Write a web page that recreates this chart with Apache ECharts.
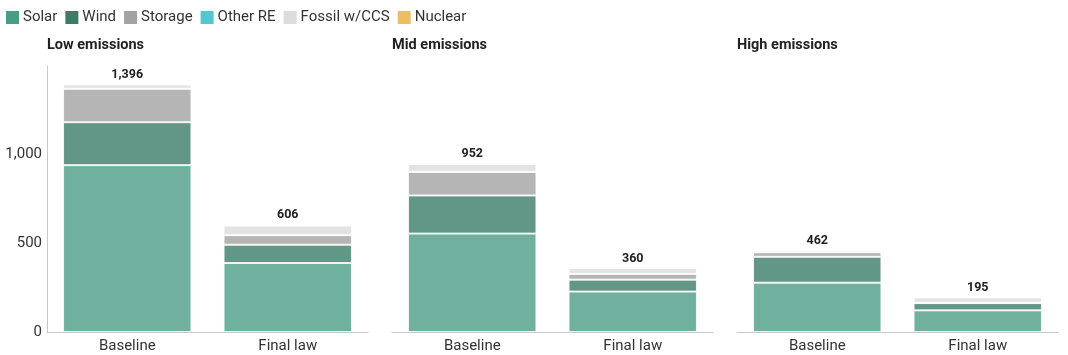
<!DOCTYPE html>
<html>
<head>
<meta charset="utf-8">
<script src="https://cdn.jsdelivr.net/npm/echarts@6/dist/echarts.min.js"></script>
<style>
html,body{margin:0;padding:0;background:#fff;}
#chart{width:1068px;height:355px;}
</style>
</head>
<body>
<div id="chart"></div>
<script>
// Data: order = [Low-Baseline, Low-Final law, Mid-Baseline, Mid-Final law, High-Baseline, High-Final law]
const panels = ['Low emissions', 'Mid emissions', 'High emissions'];
const categories = ['Baseline', 'Final law'];
const solar   = [941, 389, 555, 228, 278, 122];
const wind    = [242, 103, 215, 67, 146, 41];
const storage = [189, 54, 133, 33, 26, 2];
const otherRE = [0, 0, 0, 0, 0, 0];
const fossil  = [24, 54, 45, 32, 12, 30];
const nuclear = [0, 6, 4, 0, 0, 0];
const totals  = [1396, 606, 952, 360, 462, 195];
const yTicks = [0, 500, 1000, 1500];

const seriesDefs = [
  {name: 'Solar', data: solar, color: '#4b9c86'},
  {name: 'Wind', data: wind, color: '#3b7c68'},
  {name: 'Storage', data: storage, color: '#a3a3a3'},
  {name: 'Other RE', data: otherRE, color: '#55c6d0'},
  {name: 'Fossil w/CCS', data: fossil, color: '#dcdcdc'},
  {name: 'Nuclear', data: nuclear, color: '#ebbd64'}
];

const chart = echarts.init(document.getElementById('chart'), null, {renderer: 'canvas'});
const lefts = [47, 392, 737];
const gridW = 321;
const grids = [], xAxes = [], yAxes = [], titles = [], series = [];
panels.forEach((p, i) => {
  grids.push({left: lefts[i], width: gridW, top: 66, height: 266, containLabel: false});
  titles.push({text: p, left: lefts[i], top: 38, padding: 0, textStyle: {fontFamily: 'Roboto', fontSize: 14.5, fontWeight: 'bold', color: '#222'}});
  xAxes.push({
    type: 'category', gridIndex: i, data: categories,
    axisLine: {show: true, lineStyle: {color: '#c8c8c8', width: 1}},
    axisTick: {show: false},
    axisLabel: {fontFamily: 'Roboto', fontSize: 15, color: '#333', margin: 7}
  });
  yAxes.push({
    type: 'value', gridIndex: i, min: yTicks[0], max: yTicks[yTicks.length - 1], interval: 500,
    splitLine: {show: false},
    axisLine: {show: i === 0, lineStyle: {color: '#c8c8c8', width: 1}},
    axisTick: {show: false},
    axisLabel: {
      show: i === 0, showMaxLabel: false, fontFamily: 'Roboto', fontSize: 15, color: '#333', margin: 5,
      formatter: v => v.toLocaleString('en-US')
    }
  });
  seriesDefs.forEach(s => {
    series.push({
      name: s.name, type: 'bar', stack: 'st' + i, xAxisIndex: i, yAxisIndex: i,
      barCategoryGap: '20%',
      data: [s.data[2 * i], s.data[2 * i + 1]],
      itemStyle: {color: s.color, opacity: 0.8, borderColor: '#ffffff', borderWidth: 1},
      emphasis: {disabled: true}
    });
  });
  series.push({
    name: 'Total', type: 'bar', stack: 'st' + i, xAxisIndex: i, yAxisIndex: i,
    barCategoryGap: '20%',
    data: [0, 0],
    itemStyle: {color: 'rgba(0,0,0,0)', borderWidth: 0},
    label: {
      show: true, position: 'top', distance: 3,
      fontFamily: 'Roboto', fontSize: 12.5, fontWeight: 'bold', color: '#222',
      formatter: (prm) => totals[2 * i + prm.dataIndex].toLocaleString('en-US')
    },
    emphasis: {disabled: true}
  });
});

chart.setOption({
  animation: false,
  color: seriesDefs.map(s => s.color),
  title: titles,
  legend: {
    left: 6, top: 10, padding: 0, icon: 'rect', itemWidth: 13, itemHeight: 13, itemGap: 8,
    data: seriesDefs.map(s => ({name: s.name, itemStyle: {color: s.color, opacity: 1, borderWidth: 0}})),
    textStyle: {fontFamily: 'Roboto', fontSize: 15, color: '#333', padding: [0, 0, 0, -1]},
    selectedMode: false
  },
  grid: grids,
  xAxis: xAxes,
  yAxis: yAxes,
  series: series
});
</script>
</body>
</html>
